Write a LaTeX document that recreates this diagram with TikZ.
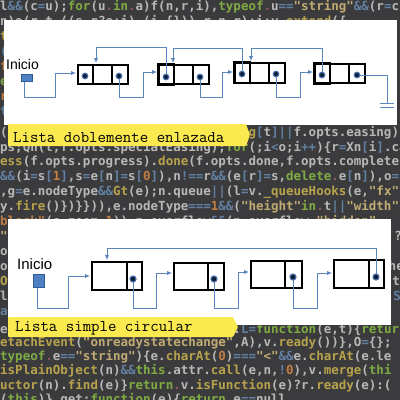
\documentclass[tikz,border=0pt]{standalone}
\usepackage{fontspec}
\usetikzlibrary{arrows.meta}
\newfontfamily\codefont{DejaVu Sans Mono Bold}
\newfontfamily\labelfont{Liberation Sans}
\definecolor{bgdark}{HTML}{3B3B3E}
\definecolor{cwht}{HTML}{CFCFCF}
\definecolor{cyel}{HTML}{CDB64E}
\definecolor{cgrn}{HTML}{8CC043}
\definecolor{cblu}{HTML}{6A8DB3}
\definecolor{corg}{HTML}{D98A45}
\definecolor{cstr}{HTML}{D8C07C}
\definecolor{cdim}{HTML}{9A6060}
\definecolor{linkblue}{HTML}{5B86BC}
\definecolor{banneryellow}{HTML}{FBEA4F}
\definecolor{sqfill}{HTML}{4F80C2}
\definecolor{sqdraw}{HTML}{2E5C96}
\definecolor{dotout}{HTML}{4A6FA8}
\definecolor{dotin}{HTML}{0B1A33}
\newcommand\kY[1]{\textcolor{cyel}{#1}}
\newcommand\kG[1]{\textcolor{cgrn}{#1}}
\newcommand\kB[1]{\textcolor{cblu}{#1}}
\newcommand\kO[1]{\textcolor{corg}{#1}}
\newcommand\kS[1]{\textcolor{cstr}{#1}}
\newcommand\kD[1]{\textcolor{cdim}{#1}}
\tikzset{
  codeline/.style={font=\codefont\fontsize{12.5}{14}\selectfont, text=cwht, inner sep=0, anchor=base west, opacity=0.85},
  coderight/.style={codeline, anchor=base east},
  panel/.style={fill=white},
  link/.style={draw=linkblue, line width=0.9pt},
  linkarrow/.style={link, -{Latex[length=5pt,width=4.5pt]}},
  cellbox/.style={draw=black, line width=1.7pt, inner sep=0, anchor=north west},
  cellline/.style={draw=black, line width=1.7pt},
  thickcell/.style={draw=black, line width=2.3pt},
  ptr/.style={circle, fill=dotin, draw=dotout, line width=1.2pt, minimum size=5.5pt, inner sep=0},
  startsq/.style={fill=sqfill, draw=sqdraw, line width=0.6pt, inner sep=0, anchor=north west},
  iniciotext/.style={font=\labelfont, inner sep=0, anchor=base west},
  bannertext/.style={font=\ttfamily\fontsize{16.4}{18}\selectfont, inner sep=0, anchor=base west},
  bannershape/.style={fill=banneryellow, rounded corners=1pt},
  gnd/.style={draw=linkblue, line width=0.9pt}
}
\begin{document}
\begin{tikzpicture}[x=1pt,y=-1pt]
\clip (0,0) rectangle (400,400);
\fill[bgdark] (0,0) rectangle (400,400);
% ---------- background code ----------
\node[codeline] (c0) at (0,10) {l\kB{\&\&}(c\kB{=}u);\kG{for}(u\kD{.}\kG{in}\kD{.}a)f(n,r,i),\kG{typeof}\kD{.}u\kB{==}\kS{"string"}\kB{\&\&}(r\kB{=}c};
\node[codeline] (c1) at (0,25) {n)o(r,t,((s,r?e:i),(i,\{\})),r.n,r):i;v.\kY{extend}(\{};
\node[codeline] (c1a) at (0,40) {\kY{t}};
\node[codeline] (c1b) at (0,55) {\kB{(}};
\node[codeline] (c1c) at (0,70) {\kO{f}};
\node[codeline] (c1d) at (0,85) {\kG{e}};
\node[codeline] (c1e) at (0,100) {\kO{r}};
\node[codeline] (c1f) at (0,115) {\kB{t}};
\node[codeline] (c2) at (0,136) {(n\kB{=}i,s\kB{=}Nt(e,t,f.opts.specialEasin\kY{g}\kB{[}t\kB{]||}f.opts.easing);};
\node[codeline] (c3) at (0,151) {ps;Qn(t,f.opts.specialEasing);\kG{for}(;i\kB{<}o;i\kB{++})\{r\kB{=}Xn\kB{[}i\kB{]}.ca};
\node[codeline] (c4) at (0,165) {\kY{ess}(f.opts.progress).\kY{done}(f.opts.done,f.opts.complete};
\node[codeline] (c5) at (0,180) {\kB{\&\&}(i\kB{=}s\kB{[}\kO{1}\kB{]},s\kB{=}e\kB{[}n\kB{]=}s\kB{[}\kO{0}\kB{]}),n\kB{!==}r\kB{\&\&}(e\kB{[}r\kB{]=}s,\kG{delete}\kD{.}e\kB{[}n\kB{]}),o\kB{=}};
\node[codeline] (c6) at (0,195) {,g\kB{=}e.nodeType\kB{\&\&}\kY{Gt}(e);n.queue\kB{||}(l\kB{=}v.\kY{\_queueHooks}(e,\kS{"fx"}};
\node[codeline] (c7) at (0,210) {y.\kY{fire}()\})\}\})),e.nodeType\kB{===}\kO{1}\kB{\&\&}(\kS{"height"}\kG{in}\kD{.}t\kB{||}\kS{"width"}\kG{in}};
\node[codeline] (c8) at (0,225) {\kO{block"}(e.zoom\kB{=}\kO{1})),n.overflow\kB{\&\&}(p.overflow\kB{=}\kS{"hidden"}};
\node[codeline] (c9) at (0,240) {\kS{"t}};
\node[codeline] (c10) at (0,255) {ov};
\node[codeline] (c11) at (0,270) {on};
\node[codeline] (c12) at (0,285) {\kY{Ow}};
\node[codeline] (c13) at (0,300) {li};
\node[codeline] (c14) at (0,315) {\kB{a}\kO{0}};
\node[coderight] (r9) at (402,240) {?};
\node[coderight] (r11) at (404,270) {he};
\node[coderight] (r12) at (400,285) {t};
\node[coderight] (r13) at (401,300) {\kB{S}};
\node[codeline] (c15) at (0,333) {e.readyState\kB{===}\kS{"complete"}),v.fx.\kB{L=}\kG{function}(e,t)\{\kG{return}};
\node[codeline] (c16) at (0,346) {\kY{etachEvent}(\kS{"onreadystatechange"},A),v.\kY{ready}())\},O\kB{=}\{\};};
\node[codeline] (c17) at (0,360) {\kG{typeof}\kD{.}e\kB{==}\kS{"string"})\{e.\kY{charAt}(\kO{0})\kB{===}\kS{"<"}\kB{\&\&}e.\kY{charAt}(e.le};
\node[codeline] (c18) at (0,374.5) {\kY{isPlainObject}(n)\kB{\&\&}\kG{this}.attr.\kY{call}(e,n,\kB{!}\kO{0}),v.\kY{merge}(\kG{thi}};
\node[codeline] (c19) at (0,389) {\kY{uctor}(n).\kY{find}(e)\}\kG{return}\kD{.}v.\kY{isFunction}(e)?r.\kY{ready}(e):(};
\node[codeline] (c20) at (0,403) {(\kG{this})\},get:\kG{function}(e)\{\kG{return}\kD{.}e\kB{==}null};
% ---------- white panels ----------
\fill[panel] (4,20) rectangle (397,125);
\fill[panel] (8,219) rectangle (391,325);
% ================= TOP: doubly linked list =================
\node[iniciotext, font=\labelfont\fontsize{14}{16}\selectfont] (iniT) at (6,69) {Inicio};
\node[startsq, minimum width=11pt, minimum height=7pt] (sqT) at (21,74) {};
% boxes
\node[cellbox, minimum width=50pt, minimum height=19pt] (T1) at (77,64) {};
\draw[cellline] (93,64) -- (93,83) (112,64) -- (112,83);
\node[cellbox, minimum width=50pt, minimum height=19pt] (T2) at (158,64) {};
\draw[cellline] (193,64) -- (193,83);
\draw[thickcell] (158,64) rectangle (174,85);
\node[cellbox, minimum width=50pt, minimum height=20pt] (T3) at (234,62) {};
\draw[cellline] (269,62) -- (269,82);
\draw[thickcell] (234,62) rectangle (250,83);
\node[cellbox, minimum width=50pt, minimum height=19pt] (T4) at (314,63) {};
\draw[cellline] (349,63) -- (349,82);
\draw[thickcell] (314,63) rectangle (330,84);
% pointer coordinates
\coordinate (sqTout) at ([xshift=-2pt]sqT.south);
\coordinate (t1l) at (85,76);  \coordinate (t1r) at (119,76);
\coordinate (t2l) at (166,77); \coordinate (t2r) at (200,77);
\coordinate (t3l) at (242,74); \coordinate (t3r) at (276,74);
\coordinate (t4l) at (322,75); \coordinate (t4r) at (357,75);
\coordinate (t1in) at (76,73);  \coordinate (t2in) at (157,72);
\coordinate (t3in) at (233,72); \coordinate (t4in) at (313,72);
\coordinate (t1top) at (96,63); \coordinate (t2top) at (173,63); \coordinate (t3top) at (251,61);
\coordinate (gndT) at (387,103);
% forward links
\draw[linkarrow] (sqTout) |- (55,97) |- (t1in);
\draw[linkarrow] (t1r) |- (143,97) |- (t2in);
\draw[linkarrow] (t2r) |- (222,97) |- (t3in);
\draw[linkarrow] (t3r) |- (300,97) |- (t4in);
\draw[link] (t4r) -| (gndT);
\draw[gnd] ([xshift=-7pt]gndT) -- ([xshift=7pt]gndT);
\draw[gnd] ([xshift=-7pt,yshift=-4.5pt]gndT) -- ([xshift=7pt,yshift=-4.5pt]gndT);
% backward links
\draw[linkarrow] (t2l) -- ++(0,-30) -| (t1top);
\draw[linkarrow] (t3l) -- ++(0,-26) -| (t2top);
\draw[linkarrow] (t4l) -- ++(0,-27) -| (t3top);
% dots
\foreach \p in {t1l,t1r,t2l,t2r,t3l,t3r,t4l,t4r} {\node[ptr] (d\p) at (\p) {};}
% banner top
\fill[bannershape] (8,124) -- (246,124) -- (250,135) -- (246,146) -- (8,146) -- cycle;
\node[bannertext] (lblT) at (13,142) {Lista doblemente enlazada};
% ================= BOTTOM: circular singly linked list =================
\node[iniciotext, font=\labelfont\fontsize{15}{17}\selectfont] (iniB) at (17,269) {Inicio};
\node[startsq, minimum width=11pt, minimum height=13pt] (sqB) at (33,274) {};
\node[cellbox, minimum width=50pt, minimum height=28pt, line width=1.9pt] (B1) at (91,261) {};
\draw[cellline, line width=1.9pt] (127,261) -- (127,289);
\node[cellbox, minimum width=50pt, minimum height=27pt, line width=1.9pt] (B2) at (173,262) {};
\draw[cellline, line width=1.9pt] (208,262) -- (208,289);
\node[cellbox, minimum width=51pt, minimum height=27pt, line width=1.9pt] (B3) at (250,260) {};
\draw[cellline, line width=1.9pt] (285,260) -- (285,287);
\node[cellbox, minimum width=50pt, minimum height=28pt, line width=1.9pt] (B4) at (333,259) {};
\draw[cellline, line width=1.9pt] (369,259) -- (369,287);
\coordinate (sqBout) at ([xshift=-1.5pt]sqB.south);
\coordinate (b1r) at (133,279); \coordinate (b2r) at (214,279);
\coordinate (b3r) at (293,277); \coordinate (b4r) at (376,277);
\coordinate (b1in) at (90,276);  \coordinate (b2in) at (172,273);
\coordinate (b3in) at (249,272); \coordinate (b4in) at (332,273);
\coordinate (b1top) at (107,260);
\draw[linkarrow] (sqBout) |- (68,308) |- (b1in);
\draw[linkarrow] (b1r) |- (156,308) |- (b2in);
\draw[linkarrow] (b2r) |- (238,308) |- (b3in);
\draw[linkarrow] (b3r) |- (317,308) |- (b4in);
\draw[linkarrow] (b4r) -- ++(0,-29) -| (b1top);
\foreach \p in {b1r,b2r,b3r,b4r} {\node[ptr, minimum size=6pt] (d\p) at (\p) {};}
% banner bottom
\fill[bannershape] (8,317) -- (233,317) -- (238,327) -- (233,337) -- (8,337) -- cycle;
\node[bannertext] (lblB) at (15,331) {Lista simple circular};
\end{tikzpicture}
\end{document}
